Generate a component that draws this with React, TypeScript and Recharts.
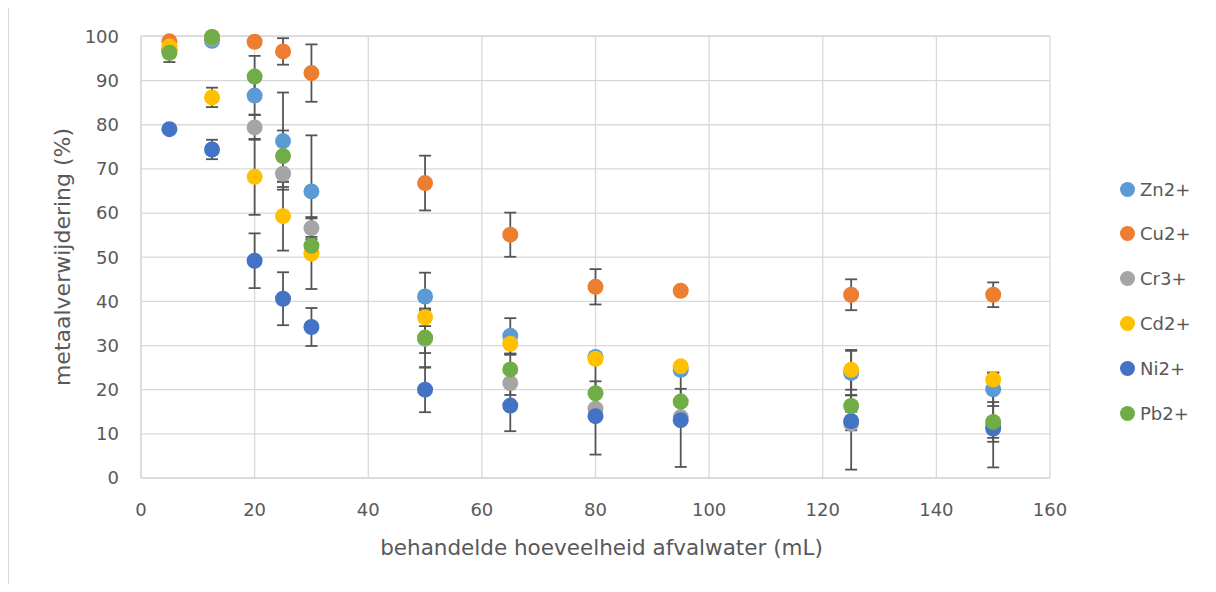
import { CartesianGrid, ErrorBar, Scatter, ScatterChart, XAxis, YAxis } from "recharts";

// treated volume of waste water (mL)
const volumes = [5, 12.5, 20, 25, 30, 50, 65, 80, 95, 125, 150];

// metal removal (%) per ion, with the standard deviation of each measurement
const zn = [96.8, 99.0, 86.6, 76.3, 64.9, 41.1, 32.2, 27.4, 24.5, 23.8, 20.1];
const znErr = [1.5, 0.5, 4.3, 11.0, 12.7, 5.4, 4.0, 1.0, 1.0, 5.0, 3.8];
const cu = [98.9, 99.9, 98.8, 96.6, 91.7, 66.8, 55.1, 43.3, 42.4, 41.5, 41.5];
const cuErr = [0.5, 0.2, 0.5, 3.0, 6.5, 6.2, 5.0, 4.0, 0.3, 3.5, 2.8];
const cr = [97.0, 99.5, 79.4, 68.9, 56.6, 31.5, 21.5, 15.7, 13.8, 12.3, 11.8];
const crErr = [1.0, 0.5, 2.8, 3.0, 2.5, 6.5, 2.7, 10.4, 11.3, 10.4, 9.4];
const cd = [97.7, 86.2, 68.2, 59.3, 50.8, 36.4, 30.4, 27.0, 25.3, 24.5, 22.3];
const cdErr = [0.5, 2.2, 8.6, 7.8, 8.0, 2.0, 2.5, 0.8, 0.8, 4.5, 1.5];
const ni = [79.0, 74.4, 49.2, 40.6, 34.2, 20.0, 16.4, 14.0, 13.1, 12.9, 11.2];
const niErr = [0.5, 2.2, 6.2, 6.0, 4.3, 5.1, 5.8, 0.5, 0.5, 2.1, 2.1];
const pb = [96.3, 99.8, 90.9, 72.9, 52.6, 31.8, 24.6, 19.2, 17.3, 16.3, 12.7];
const pbErr = [2.1, 0.3, 4.7, 5.8, 2.0, 3.5, 3.5, 2.7, 2.9, 2.4, 4.5];

const xTicks = [0, 20, 40, 60, 80, 100, 120, 140, 160];
const yTicks = [0, 10, 20, 30, 40, 50, 60, 70, 80, 90, 100];

const FONT = "'DejaVu Sans', sans-serif";
const TEXT = "#595959";
const GRID = "#d9d9d9";

const series = [
  { name: "Zn2+", values: zn, errors: znErr, color: "#5b9bd5" },
  { name: "Cu2+", values: cu, errors: cuErr, color: "#ed7d31" },
  { name: "Cr3+", values: cr, errors: crErr, color: "#a5a5a5" },
  { name: "Cd2+", values: cd, errors: cdErr, color: "#ffc000" },
  { name: "Ni2+", values: ni, errors: niErr, color: "#4472c4" },
  { name: "Pb2+", values: pb, errors: pbErr, color: "#70ad47" },
];

const toPoints = (values: number[], errors: number[]) =>
  volumes.map((x, i) => ({ x, y: values[i], err: errors[i] }));

export default function App() {
  return (
    <div style={{ position: "relative", width: 1200, height: 576, fontFamily: FONT }}>
      {/* chart-area frame: only the top and left edges fall inside the page */}
      <div
        style={{
          position: "absolute",
          left: 0,
          top: -1,
          width: 1200,
          height: 577,
          borderLeft: `1px solid ${GRID}`,
          borderTop: `1px solid ${GRID}`,
          boxSizing: "border-box",
        }}
      />
      <ScatterChart width={1200} height={576} margin={{ top: 28, right: 158, bottom: 26, left: 0 }}>
        <CartesianGrid stroke={GRID} strokeWidth={1.3} />
        <XAxis
          type="number"
          dataKey="x"
          domain={[0, 160]}
          ticks={xTicks}
          axisLine={{ stroke: GRID, strokeWidth: 1.3 }}
          tickLine={false}
          tickSize={0}
          tickMargin={25}
          height={80}
          tick={{ fontSize: 18, fill: TEXT, fontFamily: FONT }}
          label={{
            value: "behandelde hoeveelheid afvalwater (mL)",
            position: "insideBottom",
            offset: 3,
            dx: 6,
            style: { fontSize: 21.5, fill: TEXT, fontFamily: FONT },
          }}
        />
        <YAxis
          type="number"
          dataKey="y"
          domain={[0, 100]}
          ticks={yTicks}
          axisLine={{ stroke: GRID, strokeWidth: 1.3 }}
          tickLine={false}
          tickSize={0}
          tickMargin={22}
          width={133}
          tick={{ fontSize: 18, fill: TEXT, fontFamily: FONT }}
          label={{
            value: "metaalverwijdering (%)",
            angle: -90,
            position: "insideLeft",
            offset: 54,
            style: { fontSize: 22, fill: TEXT, fontFamily: FONT, textAnchor: "middle" },
          }}
        />
        {series.map((s) => (
          <Scatter
            key={s.name}
            name={s.name}
            data={toPoints(s.values, s.errors)}
            fill={s.color}
            isAnimationActive={false}
            shape={(p: any) => <circle cx={p.cx} cy={p.cy} r={8} fill={s.color} />}
          >
            <ErrorBar
              dataKey="err"
              direction="y"
              width={6}
              stroke="#555555"
              strokeWidth={1.8}
              isAnimationActive={false}
            />
          </Scatter>
        ))}
      </ScatterChart>
      {/* legend */}
      {series.map((s, i) => (
        <div
          key={s.name}
          style={{
            position: "absolute",
            left: 1112,
            top: 181 + i * 44.8 - 12,
            height: 24,
            display: "flex",
            alignItems: "center",
            gap: 5,
            fontSize: 18,
            color: TEXT,
          }}
        >
          <span style={{ width: 15, height: 15, borderRadius: "50%", background: s.color }} />
          <span>{s.name}</span>
        </div>
      ))}
    </div>
  );
}
